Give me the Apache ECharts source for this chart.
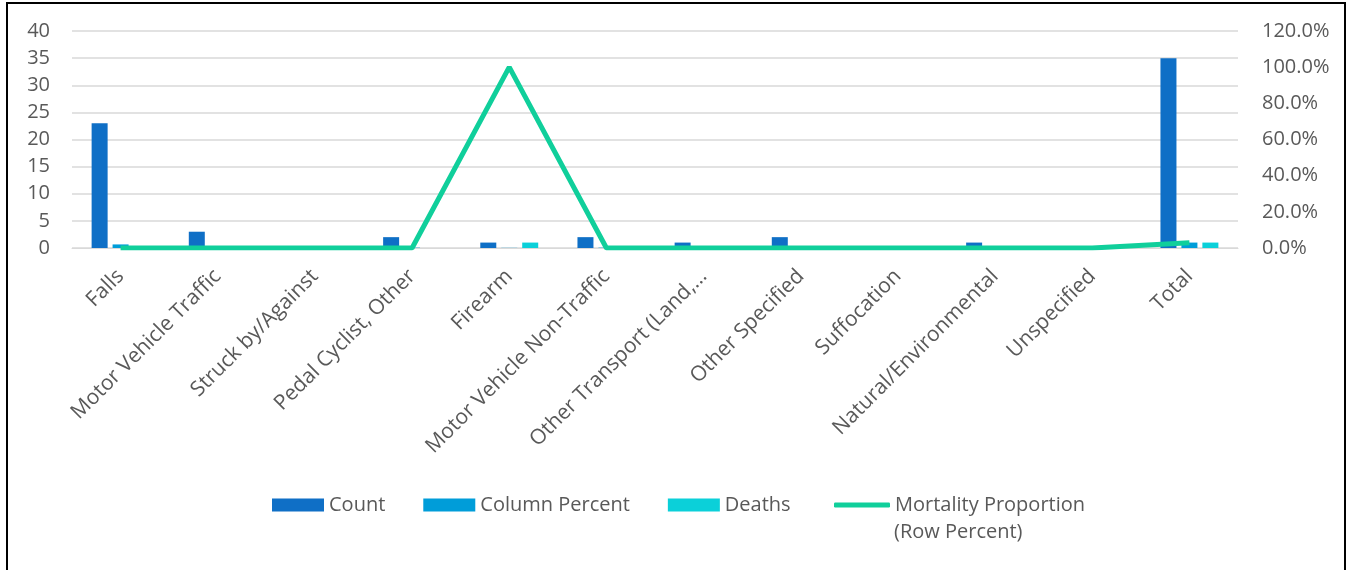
<!DOCTYPE html>
<html>
<head>
<meta charset="utf-8">
<script src="https://cdn.jsdelivr.net/npm/echarts@6/dist/echarts.min.js"></script>
<style>
  html, body { margin: 0; padding: 0; background: #ffffff; overflow: hidden; }
  #frame { position: absolute; left: 6px; top: 2px; width: 1340px; height: 620px; border: 2px solid #000; box-sizing: border-box; }
  #chart { position: absolute; left: 0; top: 0; width: 1353px; height: 570px; }
</style>
</head>
<body>
<div id="frame"></div>
<div id="chart"></div>
<script>
const categories = ["Falls", "Motor Vehicle Traffic", "Struck by/Against", "Pedal Cyclist, Other", "Firearm",
  "Motor Vehicle Non-Traffic", "Other Transport (Land,\u2026", "Other Specified", "Suffocation",
  "Natural/Environmental", "Unspecified", "Total"];
const countValues = [23, 3, 0, 2, 1, 2, 1, 2, 0, 1, 0, 35];
const columnPercentValues = [0.66, 0.09, 0, 0.06, 0.03, 0.06, 0.03, 0.06, 0, 0.03, 0, 1.0];
const deathsValues = [0, 0, 0, 0, 1, 0, 0, 0, 0, 0, 0, 1];
const mortalityValues = [0, 0, 0, 0, 1.0, 0, 0, 0, 0, 0, 0, 0.029];
const seriesNames = ["Count", "Column Percent", "Deaths", "Mortality Proportion"];
const legendSecondLine = "(Row Percent)";

const FONT = "'Open Sans', sans-serif";
const TXT = "#595959";
const chart = echarts.init(document.getElementById('chart'), null, { renderer: 'canvas' });
chart.setOption({
  animation: false,
  textStyle: { fontFamily: FONT, color: TXT },
  grid: { left: 72, right: 115, top: 31, bottom: 322, containLabel: false },
  legend: [
    {
      left: 272, top: 495, padding: 0,
      itemWidth: 52, itemHeight: 13, itemGap: 38,
      icon: 'rect',
      textStyle: { fontFamily: FONT, fontSize: 20, color: TXT },
      data: [seriesNames[0], seriesNames[1], seriesNames[2]]
    },
    {
      left: 834, top: 495, padding: 0,
      itemWidth: 56, itemHeight: 5,
      icon: 'roundRect',
      textStyle: { fontFamily: FONT, fontSize: 20, color: TXT },
      data: [seriesNames[3]]
    }
  ],
  graphic: [
    { type: 'text', left: 894, top: 522,
      style: { text: legendSecondLine, font: "20px 'Open Sans', sans-serif", fill: TXT } }
  ],
  xAxis: {
    type: 'category', data: categories,
    axisLine: { show: true, lineStyle: { color: '#D9D9D9', width: 1 } },
    axisTick: { show: false },
    axisLabel: { rotate: 45, interval: 0, fontSize: 21, color: TXT, fontFamily: FONT, margin: 25 }
  },
  yAxis: [
    {
      type: 'value', min: 0, max: 40, interval: 5,
      axisLine: { show: false }, axisTick: { show: false },
      splitLine: { lineStyle: { color: '#D9D9D9', width: 1.5 } },
      axisLabel: { fontSize: 20, color: TXT, fontFamily: FONT, margin: 22 }
    },
    {
      type: 'value', min: 0, max: 1.2, interval: 0.2,
      axisLine: { show: false }, axisTick: { show: false },
      splitLine: { show: false },
      axisLabel: { fontSize: 20, color: TXT, fontFamily: FONT, margin: 24,
        formatter: function (v) { return (v * 100).toFixed(1) + '%'; } }
    }
  ],
  series: [
    { name: seriesNames[0], type: 'bar', data: countValues, barWidth: 16, barGap: '31%', itemStyle: { color: '#0F6FC6' } },
    { name: seriesNames[1], type: 'bar', data: columnPercentValues, barWidth: 16, barGap: '31%', itemStyle: { color: '#009DD9' } },
    { name: seriesNames[2], type: 'bar', data: deathsValues, barWidth: 16, barGap: '31%', itemStyle: { color: '#0BD0D9' } },
    { name: seriesNames[3], type: 'line', yAxisIndex: 1, data: mortalityValues, showSymbol: false, symbol: 'none',
      lineStyle: { color: '#10CF9B', width: 5 }, itemStyle: { color: '#10CF9B' }, z: 5 }
  ]
});
</script>
</body>
</html>
